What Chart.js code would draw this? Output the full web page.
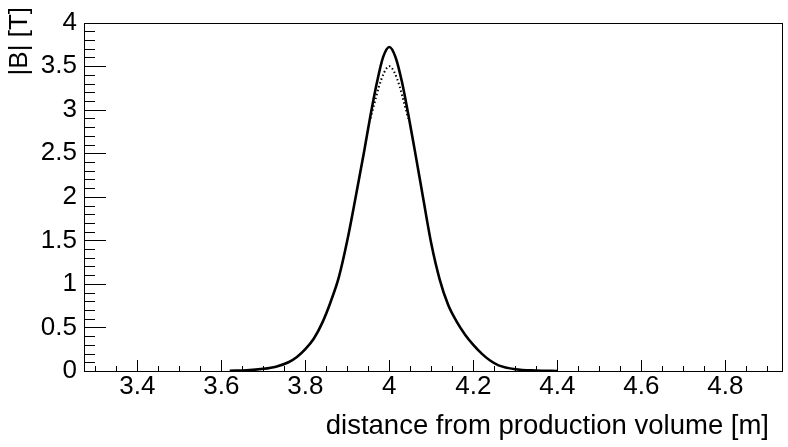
<!DOCTYPE html>
<html>
<head>
<meta charset="utf-8">
<title>|B| vs distance</title>
<script src="https://cdn.jsdelivr.net/npm/chart.js@4.4.0/dist/chart.umd.min.js"></script>
<style>
    html, body { margin: 0; padding: 0; background: #fff; }
    #wrap { width: 788px; height: 447px; }
</style>
</head>
<body>
<div id="wrap"><canvas id="bChart" width="788" height="447"></canvas></div>
<script>
(function () {
    'use strict';

    // ─── Data ────────────────────────────────────────────────────────────────
    const distance = [3.62, 3.66, 3.70, 3.73, 3.76, 3.78, 3.80, 3.82, 3.84, 3.86, 3.88, 3.90, 3.92, 3.94, 3.955, 3.97, 3.985,
                      4.00, 4.015, 4.03, 4.045, 4.06, 4.08, 4.10, 4.12, 4.14, 4.16, 4.18, 4.20, 4.22, 4.24, 4.26, 4.30, 4.35, 4.40];
    const fieldB   = [0.003, 0.008, 0.025, 0.05, 0.10, 0.16, 0.25, 0.37, 0.55, 0.79, 1.08, 1.50, 2.00, 2.52, 2.93, 3.30, 3.60,
                      3.72, 3.60, 3.32, 2.95, 2.55, 2.00, 1.46, 1.05, 0.76, 0.57, 0.42, 0.30, 0.20, 0.12, 0.065, 0.02, 0.005, 0.0];

    // lower edge of the scattered band near the peak
    const peakDistance = [3.955, 3.965, 3.975, 3.988, 4.000, 4.012, 4.025, 4.035, 4.045];
    const peakLowB     = [2.90, 3.08, 3.26, 3.43, 3.50, 3.43, 3.26, 3.08, 2.90];

    const xTickLabels = ['3.4', '3.6', '3.8', '4', '4.2', '4.4', '4.6', '4.8'];
    const yTickLabels = ['0', '0.5', '1', '1.5', '2', '2.5', '3', '3.5', '4'];
    const xTitle = 'distance from production volume [m]';
    const yTitle = '|B| [T]';

    const FONT = "'Liberation Sans', Arial, Helvetica, sans-serif";

    function toPoints(xs, ys) {
        return xs.map((x, i) => ({ x: x, y: ys[i] }));
    }

    function labelFor(list, v) {
        const hit = list.find(s => Math.abs(parseFloat(s) - v) < 1e-6);
        return hit === undefined ? '' : hit;
    }

    // ─── Frame, inside ticks and axis titles (ROOT style) ───────────────────
    const rootFrame = {
        id: 'rootFrame',
        afterDraw(chart) {
            const ctx = chart.ctx;
            const a = chart.chartArea;
            const xs = chart.scales.x;
            const ys = chart.scales.y;
            ctx.save();
            ctx.strokeStyle = '#000';
            ctx.lineWidth = 1;
            ctx.strokeRect(Math.round(a.left) + 0.5, Math.round(a.top) + 0.5,
                           Math.round(a.right - a.left), Math.round(a.bottom - a.top));
            ctx.beginPath();
            xs.ticks.forEach(t => {
                const px = Math.round(xs.getPixelForValue(t.value)) + 0.5;
                const len = labelFor(xTickLabels, t.value) ? 11 : 5;
                ctx.moveTo(px, a.bottom);
                ctx.lineTo(px, a.bottom - len);
            });
            ys.ticks.forEach(t => {
                const py = Math.round(ys.getPixelForValue(t.value)) + 0.5;
                const len = labelFor(yTickLabels, t.value) ? 22 : 11;
                ctx.moveTo(a.left, py);
                ctx.lineTo(a.left + len, py);
            });
            ctx.stroke();

            ctx.fillStyle = '#000';
            ctx.textAlign = 'right';
            ctx.textBaseline = 'middle';
            ctx.font = '27.5px ' + FONT;
            ctx.fillText(xTitle, 769, 426);

            ctx.font = '26px ' + FONT;
            ctx.translate(19.5, 7);
            ctx.rotate(-Math.PI / 2);
            ctx.fillText(yTitle, 0, 0);
            ctx.restore();
        }
    };

    function stepTicks(min, max, step) {
        const out = [];
        const n = Math.round((max - min) / step);
        for (let i = 0; i <= n; i++) out.push({ value: Math.round((min + i * step) * 1000) / 1000 });
        return out;
    }

    new Chart(document.getElementById('bChart'), {
        type: 'line',
        data: {
            datasets: [
                {
                    label: '|B|',
                    data: toPoints(distance, fieldB),
                    borderColor: '#000',
                    borderWidth: 2.6,
                    pointRadius: 0,
                    cubicInterpolationMode: 'monotone',
                    fill: false,
                },
                {
                    label: '|B| spread',
                    data: toPoints(peakDistance, peakLowB),
                    borderColor: '#000',
                    borderWidth: 2,
                    borderDash: [1.5, 2.5],
                    pointRadius: 0,
                    cubicInterpolationMode: 'monotone',
                    fill: false,
                },
            ],
        },
        options: {
            responsive: false,
            animation: false,
            devicePixelRatio: 1,
            layout: { padding: { top: 13, right: 6, left: 0, bottom: 0 } },
            plugins: { legend: { display: false }, tooltip: { enabled: false } },
            scales: {
                x: {
                    type: 'linear',
                    min: 3.273,
                    max: 4.935,
                    border: { display: false },
                    grid: { display: false, drawTicks: false },
                    afterBuildTicks: s => { s.ticks = stepTicks(3.3, 4.9, 0.05); },
                    afterFit: s => { s.height = 76; },
                    ticks: {
                        autoSkip: false,
                        maxRotation: 0,
                        padding: 0,
                        color: '#000',
                        font: { family: FONT, size: 26 },
                        callback: v => labelFor(xTickLabels, v),
                    },
                },
                y: {
                    type: 'linear',
                    min: 0,
                    max: 4,
                    border: { display: false },
                    grid: { display: false, drawTicks: false },
                    afterBuildTicks: s => { s.ticks = stepTicks(0, 4, 0.1); },
                    afterFit: s => { s.width = 84; },
                    ticks: {
                        autoSkip: false,
                        padding: 7,
                        color: '#000',
                        font: { family: FONT, size: 26 },
                        callback: v => labelFor(yTickLabels, v),
                    },
                },
            },
        },
        plugins: [rootFrame],
    });
})();
</script>
</body>
</html>
